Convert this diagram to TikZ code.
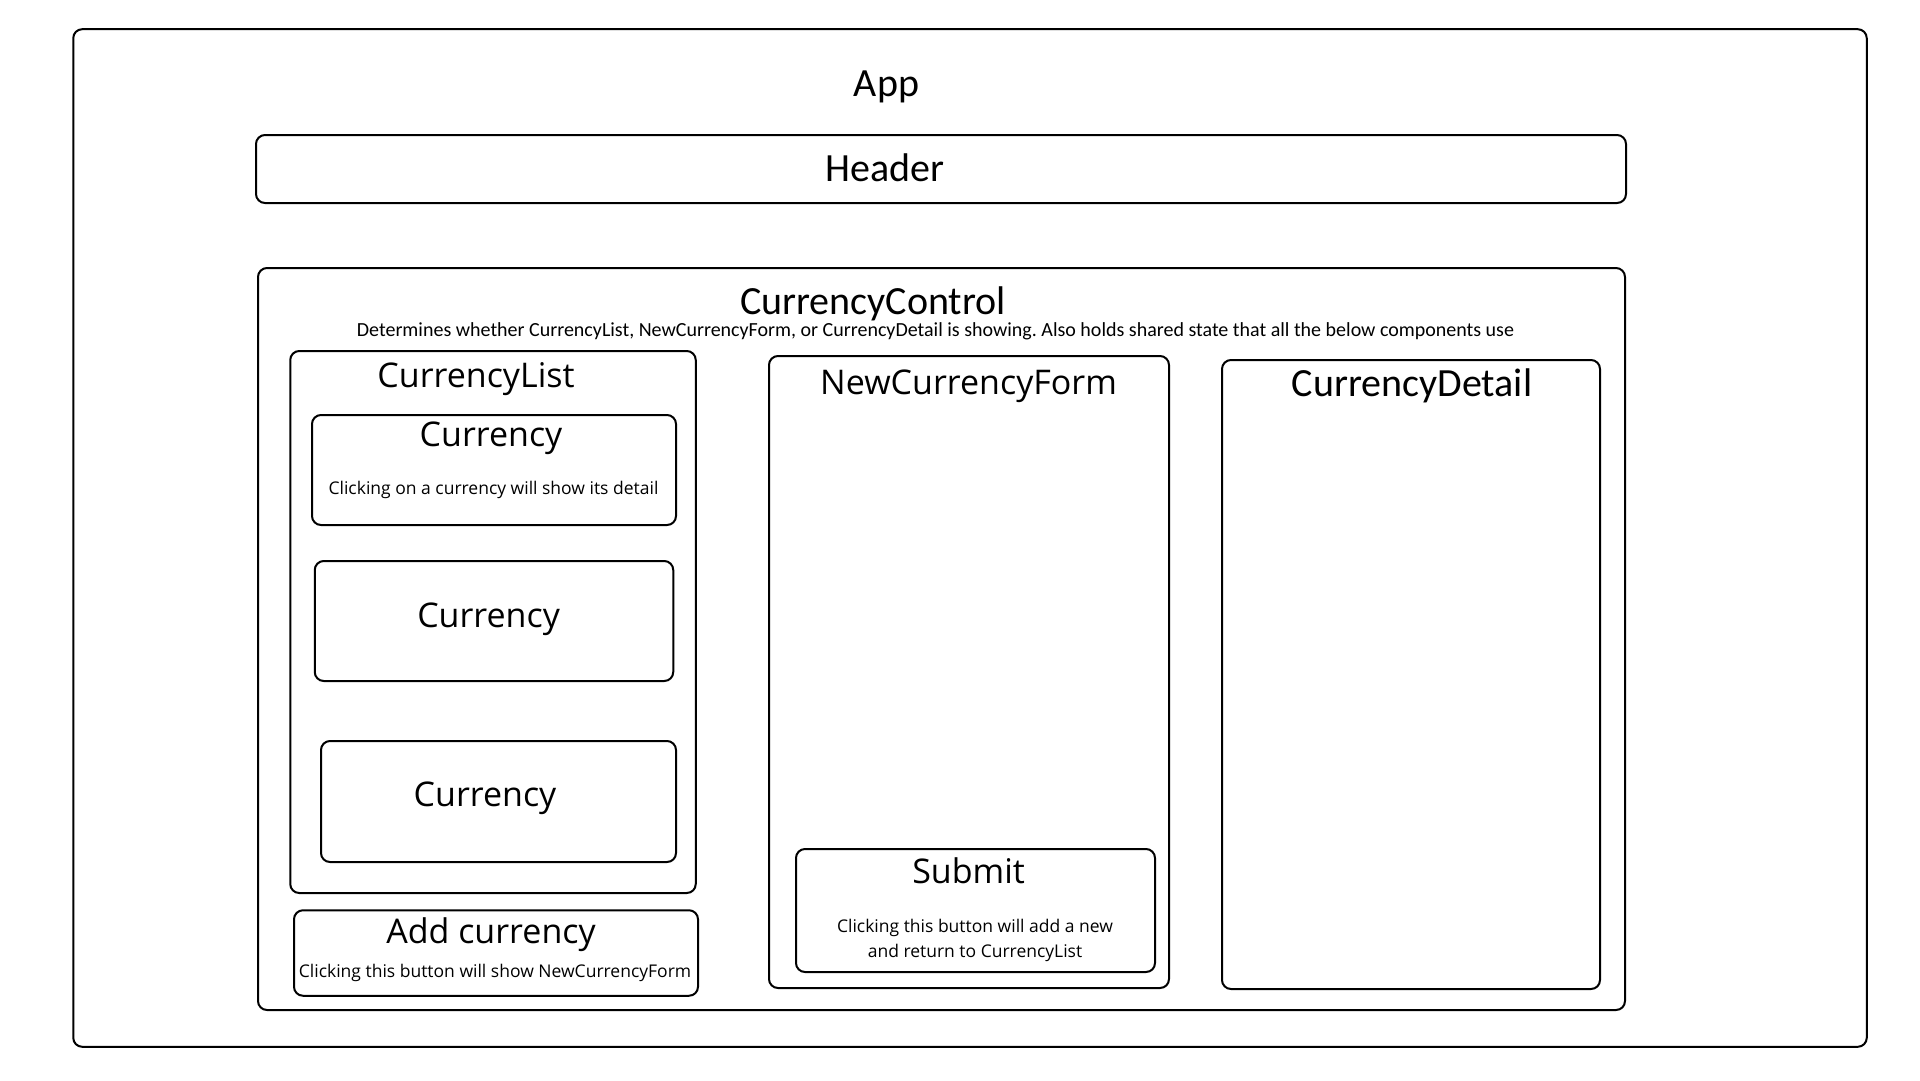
\documentclass[tikz,border=0pt]{standalone}
\usepackage{fontspec}
\setmainfont{Carlito}
\newfontfamily\opensans{Open Sans}
\usetikzlibrary{positioning}
\definecolor{EdgeBlack}{HTML}{000000}
\definecolor{TextBlack}{HTML}{000000}
\frenchspacing

\begin{document}
\begin{tikzpicture}[x=1pt,y=-1pt,
    frame/.style={draw=EdgeBlack,line width=2pt,rounded corners=9pt,inner sep=0pt,fill=white},
    sized/.style 2 args={minimum width=#1pt,minimum height=#2pt},
    title/.style={font=\fontsize{40}{48}\selectfont,color=TextBlack,inner sep=0pt},
    ctitle/.style={font=\opensans\fontsize{34}{40}\selectfont,color=TextBlack,inner sep=0pt},
    note/.style={font=\opensans\fontsize{17.5}{24.5}\selectfont,color=TextBlack,align=center,inner sep=0pt},
    subnote/.style={font=\fontsize{20}{24}\selectfont,color=TextBlack,inner sep=0pt}]
  \useasboundingbox (0,0) rectangle (1920,1080);
  \node[frame,sized={1793.5}{1017.6}] (app)     at (970,538)   {};
  \node[frame,sized={1370}{68}]       (header)  at (941,169)   {};
  \node[frame,sized={1367}{742}]      (control) at (941.5,639) {};
  \node[frame,sized={405.5}{542}]     (list)    at (493,622)   {};
  \node[frame,sized={364}{110}]       (cur1)    at (494,470)   {};
  \node[frame,sized={358.5}{120}]     (cur2)    at (494,621)   {};
  \node[frame,sized={355}{121}]       (cur3)    at (498.5,801.5) {};
  \node[frame,sized={404}{85.5}]      (add)     at (496,953)   {};
  \node[frame,sized={400}{632}]       (form)    at (969,672)   {};
  \node[frame,sized={359}{123}]       (submit)  at (975.5,910.5) {};
  \node[frame,sized={378}{629}]       (detail)  at (1411,674.5) {};

  \node[title]  (apptitle)     at (886.5,86.5) {App};
  \node[title]  (headertitle)  at (885,168)    {Header};
  \node[title]  (controltitle) at (873,303.5)  {CurrencyControl};
  \node[subnote] (controlnote) at (935.5,331.5) {Determines whether CurrencyList, NewCurrencyForm, or CurrencyDetail is showing. Also holds shared state that all the below components use};
  \node[ctitle] (listtitle)    at (476,379.5)  {CurrencyList};
  \node[ctitle] (cur1title)    at (491,438.5)  {Currency};
  \node[note]   (cur1note)     at (493.5,489.5) {Clicking on a currency will show its detail};
  \node[ctitle] (cur2title)    at (488.6,619.5) {Currency};
  \node[ctitle] (cur3title)    at (485,798.5)  {Currency};
  \node[ctitle] (addtitle)     at (491,934.5)  {Add currency};
  \node[note]   (addnote)      at (495,972.5)  {Clicking this button will show NewCurrencyForm};
  \node[ctitle] (formtitle)    at (968.6,386.5) {NewCurrencyForm};
  \node[ctitle] (submittitle)  at (968.6,871)  {Submit};
  \node[note]   (submitnote)   at (975,940.5)  {Clicking this button will add a new\\and return to CurrencyList};
  \node[title]  (detailtitle)  at (1412,385.5) {CurrencyDetail};
\end{tikzpicture}
\end{document}
